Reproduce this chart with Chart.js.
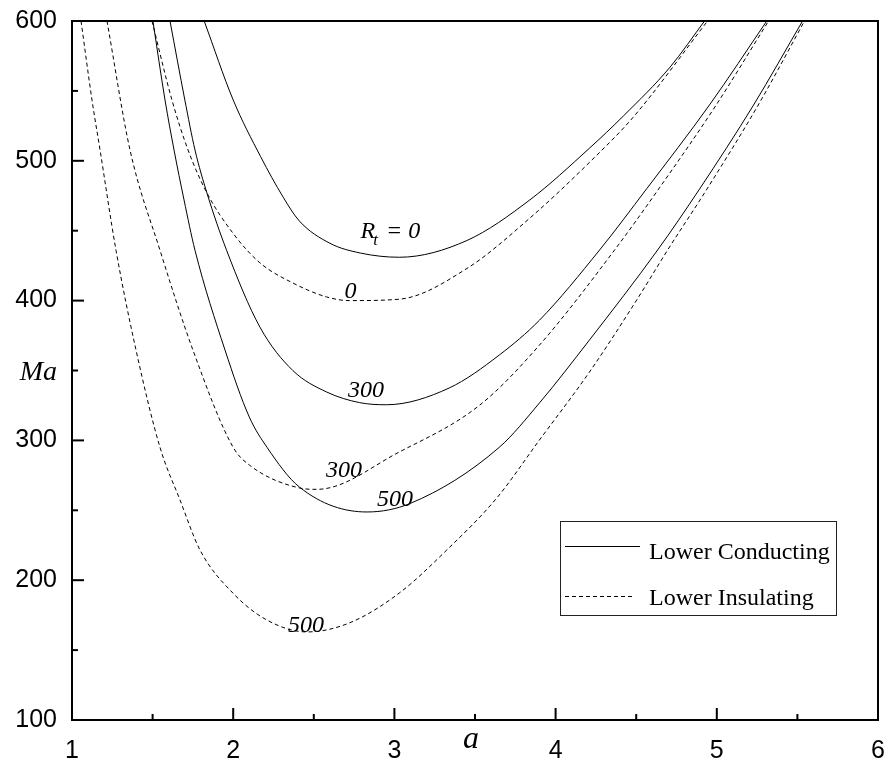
<!DOCTYPE html>
<html>
<head>
<meta charset="utf-8">
<script src="https://cdn.jsdelivr.net/npm/chart.js@4.4.1/dist/chart.umd.min.js"></script>
<style>
  html, body { margin: 0; padding: 0; background: #fff; }
  #wrap { width: 888px; height: 769px; }
</style>
</head>
<body>
<div id="wrap"><canvas id="maChart" width="888" height="769"></canvas></div>
<script>
// wave number a  ->  Marangoni number Ma
const condA0   = [1.82, 2.00, 2.17, 2.31, 2.41, 2.6, 2.79, 3.03, 3.45, 3.84, 4.21, 4.42, 4.71, 4.924];
const condMa0  = [600, 543.5, 503, 474, 457, 441, 434, 431, 443, 472, 509, 532, 567, 600];

const insA0    = [1.496, 1.62, 1.72, 1.837, 2.00, 2.166, 2.37, 2.58, 2.72, 3.03, 3.45, 3.84, 4.22, 4.48, 4.943];
const insMa0   = [600, 543.5, 507.7, 477, 448, 427, 412.6, 402.6, 400, 401, 423, 459, 500, 531, 600];

const condA300  = [1.608, 1.70, 1.763, 1.837, 1.959, 2.166, 2.37, 2.58, 2.785, 2.95, 3.34, 3.65, 3.90, 4.273, 4.565, 4.955, 5.31];
const condMa300 = [600, 543.5, 507.7, 477, 436, 381, 350, 334.6, 327, 325.5, 337.5, 361, 386, 436.2, 480, 540, 600];

const insA300   = [1.217, 1.36, 1.546, 1.75, 2.0, 2.10, 2.41, 2.52, 3.03, 3.53, 3.90, 4.366, 4.639, 4.996, 5.321];
const insMa300  = [600, 507.7, 436, 364.7, 295, 282.4, 266, 265, 291.7, 325.3, 368.2, 436.2, 479.8, 539.9, 600];

const condA500  = [1.502, 1.577, 1.633, 1.695, 1.763, 1.949, 2.10, 2.21, 2.41, 2.83, 3.10, 3.65, 3.90, 4.21, 4.633, 4.893, 5.228, 5.532];
const condMa500 = [600, 543.5, 507.7, 472, 436, 364.7, 316.7, 295, 266.7, 248.8, 255, 295, 326.8, 371.8, 436.2, 479.8, 539.9, 600];

const insA500   = [1.056, 1.124, 1.174, 1.273, 1.397, 1.546, 1.67, 1.794, 1.998, 2.209, 2.457, 2.72, 3.03, 3.325, 3.635, 3.90, 4.21, 4.503, 4.695, 4.939, 5.257, 5.544];
const insMa500  = [600, 543.5, 507.7, 436, 364.7, 295, 257.4, 221.6, 190.8, 171.5, 163, 169.4, 190.8, 221.6, 258.8, 300.3, 348.9, 400.4, 436.2, 479.8, 539.9, 600];

const xMajor = [1, 2, 3, 4, 5, 6];
const xMinor = [1.5, 2.5, 3.5, 4.5, 5.5];
const yMajor = [100, 200, 300, 400, 500, 600];
const yMinor = [150, 250, 350, 450, 550];

// curve labels: text, a, Ma (left end / baseline)
const curveLabels = [
  ['0', 2.69, 402],
  ['300', 2.712, 331],
  ['300', 2.576, 274],
  ['500', 2.892, 253],
  ['500', 2.34, 163]
];

function pts(xs, ys) {
  return xs.map((x, i) => ({ x: x, y: ys[i] }));
}

function series(name, xs, ys, dashed) {
  return {
    label: name,
    data: pts(xs, ys),
    showLine: true,
    borderColor: '#000',
    borderWidth: 1,
    borderDash: dashed ? [4, 3] : [],
    pointRadius: 0,
    cubicInterpolationMode: 'monotone',
    fill: false
  };
}

const serifItalic = 'italic 24px "Liberation Serif", "Times New Roman", serif';

// frame, inward ticks, axis names, curve labels and legend box
const decorPlugin = {
  id: 'decor',
  afterDatasetsDraw(chart) {
    const ctx = chart.ctx;
    const area = chart.chartArea;
    const xs = chart.scales.x;
    const ys = chart.scales.y;

    ctx.save();
    ctx.strokeStyle = '#000';
    ctx.lineWidth = 2;
    ctx.strokeRect(area.left, area.top, area.right - area.left, area.bottom - area.top);

    function seg(x1, y1, x2, y2) {
      ctx.beginPath();
      ctx.moveTo(x1, y1);
      ctx.lineTo(x2, y2);
      ctx.stroke();
    }
    xMajor.forEach(v => { const p = xs.getPixelForValue(v); seg(p, area.bottom, p, area.bottom - 12); });
    xMinor.forEach(v => { const p = xs.getPixelForValue(v); seg(p, area.bottom, p, area.bottom - 6); });
    yMajor.forEach(v => { const p = ys.getPixelForValue(v); seg(area.left, p, area.left + 12, p); });
    yMinor.forEach(v => { const p = ys.getPixelForValue(v); seg(area.left, p, area.left + 6, p); });

    // axis names
    ctx.fillStyle = '#000';
    ctx.textBaseline = 'alphabetic';
    ctx.font = 'italic 28px "Liberation Serif", "Times New Roman", serif';
    ctx.textAlign = 'right';
    ctx.fillText('Ma', area.left - 15, ys.getPixelForValue(350) + 9);
    ctx.font = 'italic 32px "Liberation Serif", "Times New Roman", serif';
    ctx.textAlign = 'center';
    ctx.fillText('a', xs.getPixelForValue(3.5) - 4, area.bottom + 28);

    // curve labels
    ctx.font = serifItalic;
    ctx.textAlign = 'left';
    curveLabels.forEach(l => {
      ctx.fillText(l[0], xs.getPixelForValue(l[1]), ys.getPixelForValue(l[2]));
    });
    // R_t = 0
    let rx = xs.getPixelForValue(2.79);
    const ry = ys.getPixelForValue(445);
    ctx.fillText('R', rx, ry);
    rx += ctx.measureText('R').width;
    ctx.font = 'italic 17px "Liberation Serif", "Times New Roman", serif';
    ctx.fillText('t', rx - 2, ry + 7);
    rx += ctx.measureText('t').width;
    ctx.font = serifItalic;
    ctx.fillText(' = 0', rx, ry);

    // legend
    ctx.lineWidth = 1;
    ctx.strokeStyle = '#222';
    ctx.strokeRect(560.5, 521.5, 276, 94);
    ctx.strokeStyle = '#000';
    seg(565, 546.5, 640, 546.5);
    ctx.setLineDash([4, 3]);
    seg(565, 596.5, 633, 596.5);
    ctx.setLineDash([]);
    ctx.font = '24px "Liberation Serif", "Times New Roman", serif';
    ctx.fillText('Lower Conducting', 649, 559);
    ctx.fillText('Lower Insulating', 649, 605);
    ctx.restore();
  }
};

function noEdgePadding(scale) {
  scale.paddingTop = 0;
  scale.paddingBottom = 0;
  scale.paddingLeft = 0;
  scale.paddingRight = 0;
}

const chart = new Chart(document.getElementById('maChart').getContext('2d'), {
  type: 'scatter',
  data: {
    datasets: [
      series('Lower Conducting', condA0, condMa0, false),
      series('Lower Insulating', insA0, insMa0, true),
      series('Lower Conducting', condA300, condMa300, false),
      series('Lower Insulating', insA300, insMa300, true),
      series('Lower Conducting', condA500, condMa500, false),
      series('Lower Insulating', insA500, insMa500, true)
    ]
  },
  options: {
    responsive: false,
    animation: false,
    events: [],
    layout: { padding: { top: 21, right: 10, left: 0, bottom: 0 } },
    plugins: {
      legend: { display: false },
      tooltip: { enabled: false }
    },
    scales: {
      x: {
        type: 'linear',
        min: 1,
        max: 6,
        grid: { display: false, drawTicks: false },
        border: { display: false },
        ticks: {
          stepSize: 1,
          padding: 16,
          color: '#000',
          font: { family: '"Liberation Sans", Arial, sans-serif', size: 25 }
        },
        afterFit(scale) { scale.height = 49; noEdgePadding(scale); }
      },
      y: {
        type: 'linear',
        min: 100,
        max: 600,
        grid: { display: false, drawTicks: false },
        border: { display: false },
        ticks: {
          stepSize: 100,
          padding: 15,
          color: '#000',
          font: { family: '"Liberation Sans", Arial, sans-serif', size: 25 }
        },
        afterFit(scale) { scale.width = 72; noEdgePadding(scale); }
      }
    }
  },
  plugins: [decorPlugin]
});
</script>
</body>
</html>
